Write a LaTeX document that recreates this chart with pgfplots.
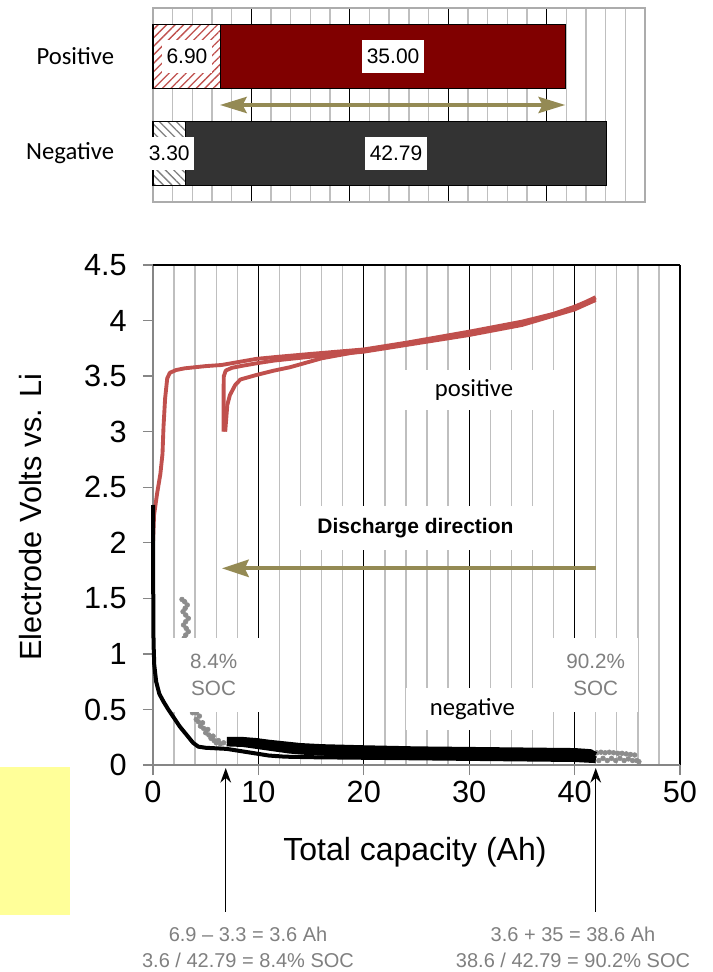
\documentclass[border=0pt]{standalone}
\usepackage{fontspec}
\setmainfont{Liberation Sans}
\newfontfamily\calibri{Carlito}
\usepackage{pgfplots}
\pgfplotsset{compat=1.18}
\usetikzlibrary{arrows.meta,patterns.meta}
\definecolor{posred}{HTML}{C0504D}
\definecolor{darkred}{HTML}{800000}
\definecolor{negdark}{HTML}{333333}
\definecolor{olivearr}{HTML}{948A54}
\definecolor{gridgray}{HTML}{BFBFBF}
\definecolor{axgray}{HTML}{868686}
\definecolor{txtgray}{HTML}{808080}
\definecolor{dotgray}{HTML}{8C8C8C}
\definecolor{hilite}{HTML}{FFFF99}
\pgfplotsset{
  topbox/.style={at={(0pt,0pt)}, anchor=origin, scale only axis,
    width=369pt, height=145.5pt, xmin=0, xmax=50, ymin=0, ymax=2, clip=false},
  botbox/.style={at={(0pt,0pt)}, anchor=origin, scale only axis,
    width=395.25pt, height=375pt, xmin=0, xmax=50, ymin=0, ymax=4.5, clip=false},
}
\begin{document}
\begin{tikzpicture}
\path[use as bounding box] (0pt,0pt) rectangle (534.75pt,729pt);
\fill[hilite] (0pt,42.75pt) rectangle (52.5pt,153.75pt);

% ---------- top: electrode capacity bars ----------
\begin{scope}[shift={(114.75pt,577.5pt)}]
\begin{axis}[
  topbox,
  xbar stacked, bar width=0.66,
  xtick={10,20,30,40}, xticklabels={},
  minor xtick={2,4,6,8,12,14,16,18,22,24,26,28,32,34,36,38,42,44,46,48},
  xmajorgrids, xminorgrids,
  major grid style={black, line width=1pt},
  minor grid style={gridgray, line width=1.1pt},
  ytick={0.5,1.5}, yticklabels={Negative,Positive},
  major tick length=0pt, minor tick length=0pt,
  axis line style={gridgray!90!black, line width=1.1pt},
  yticklabel style={font=\calibri\fontsize{18.5}{18.5}\selectfont, inner sep=0pt, anchor=east, xshift=-29pt},
]
\addplot[draw=black, line width=0.8pt, fill=white,
  postaction={pattern={Lines[angle=45,distance=4.5pt,line width=1pt]}, pattern color=posred}]
  coordinates {(6.90,1.5) (0,0.5)};
\addplot[draw=black, line width=0.8pt, fill=darkred] coordinates {(35.00,1.5) (0,0.5)};
\addplot[draw=black, line width=0.8pt, fill=white,
  postaction={pattern={Lines[angle=-45,distance=4.5pt,line width=1pt]}, pattern color=txtgray}]
  coordinates {(0,1.5) (3.30,0.5)};
\addplot[draw=black, line width=0.8pt, fill=negdark] coordinates {(0,1.5) (42.79,0.5)};
\end{axis}
% labels and arrow over the bars
\begin{axis}[topbox, hide axis]
\tikzset{vlab/.style={fill=white, inner xsep=3.5pt, inner ysep=6.5pt, font=\fontsize{15.75}{15.75}\selectfont}}
\node[vlab] at (axis cs:3.45,1.5) {6.90};
\node[vlab] at (axis cs:24.4,1.5) {35.00};
\node[vlab] at (axis cs:1.65,0.5) {3.30};
\node[vlab] at (axis cs:24.7,0.5) {42.79};
\draw[olivearr, line width=3pt, {Stealth[length=20pt,width=12pt,inset=3pt]}-{Stealth[length=20pt,width=12pt,inset=3pt]}]
  (axis cs:6.8,1.0) -- (axis cs:41.9,1.0);
\end{axis}
\end{scope}

% ---------- bottom: electrode potentials ----------
\begin{scope}[shift={(114.75pt,155.25pt)}]
\begin{axis}[
  botbox,
  axis lines*=left, axis line style={-, draw=axgray, line width=1.1pt},
  xtick={10,20,30,40,50}, extra x ticks={0}, extra x tick style={grid=none},
  minor xtick={2,4,6,8,12,14,16,18,22,24,26,28,32,34,36,38,42,44,46,48},
  ytick={0,0.5,1,1.5,2,2.5,3,3.5,4,4.5},
  xmajorgrids, xminorgrids,
  major grid style={black, line width=1pt},
  minor grid style={gridgray, line width=1.1pt},
  tick align=outside, major tick length=7.5pt, minor tick length=0pt,
  tick style={axgray, line width=1pt},
  ticklabel style={font=\fontsize{23}{23}\selectfont},
  /pgf/number format/assume math mode=true,
  xticklabel style={inner sep=0pt, yshift=-4pt},
  yticklabel style={inner sep=0pt, anchor=east, xshift=-12pt},
  xlabel={Total capacity (Ah)},
  xlabel style={at={(axis description cs:0.497,-0.174)}, anchor=center, font=\fontsize{24}{24}\selectfont},
  ylabel={Electrode Volts vs. Li},
  ylabel style={at={(axis description cs:-0.233,0.496)}, anchor=center, rotate=0, font=\fontsize{23}{23}\selectfont},
]
% gray dots: negative electrode outside the cell window
\addplot[only marks, mark=*, mark size=1.8pt, dotgray, mark options={draw=none, fill=dotgray}] coordinates {
(2.75,1.49)(3.0,1.47)(3.25,1.44)(3.05,1.41)(2.85,1.38)(3.1,1.35)(3.35,1.32)(3.1,1.29)(2.9,1.26)
(3.15,1.23)(3.35,1.20)(3.1,1.17)(2.95,1.14)(3.2,1.12)
(3.3,1.0)(3.4,0.85)(3.5,0.7)(3.7,0.6)(3.8,0.52)
(3.75,0.47)(4.1,0.47)(4.4,0.44)(4.1,0.41)(4.3,0.39)(4.7,0.38)(4.5,0.35)(4.8,0.33)(5.2,0.32)
(5.0,0.29)(5.3,0.27)(5.7,0.26)(5.5,0.24)(5.8,0.22)(6.2,0.22)(6.0,0.20)(6.4,0.19)(6.7,0.20)
(42.1,0.11)(42.5,0.115)(42.9,0.11)(43.3,0.115)(43.7,0.11)(44.1,0.105)(44.5,0.105)(44.9,0.10)
(45.3,0.095)(45.7,0.09)
(42.3,0.04)(42.7,0.06)(43.1,0.04)(43.5,0.06)(43.9,0.04)(44.3,0.06)(44.7,0.04)(45.1,0.055)
(45.5,0.04)(45.9,0.04)(46.1,0.03)
};
\end{axis}
% boxes over grid and gray dots, then the curves
\begin{axis}[botbox, hide axis]
\node[fill=white, minimum width=125pt, minimum height=30pt, font=\calibri\fontsize{18.5}{18.5}\selectfont]
  at (axis cs:30.45,3.375) {positive};
\node[fill=white, minimum width=100pt, minimum height=32pt, font=\calibri\fontsize{18.5}{18.5}\selectfont]
  at (axis cs:30.3,0.504) {negative};
\node[fill=white, minimum width=185pt, minimum height=33pt, font=\bfseries\fontsize{15.75}{15.75}\selectfont]
  at (axis cs:24.9,2.13) {Discharge direction};
\node[fill=white, minimum width=72pt, minimum height=55pt, align=center, text=txtgray,
  font=\fontsize{15.5}{20}\selectfont] at (axis cs:5.75,0.81) {8.4\%\\SOC};
\node[fill=white, minimum width=64pt, minimum height=55pt, align=center, text=txtgray,
  font=\fontsize{15.5}{20}\selectfont] at (axis cs:42.0,0.81) {90.2\%\\SOC};
% positive electrode, three cycles
\addplot[posred, line width=2.9pt, line join=round] coordinates {
(0.0,2.00)(0.1,2.25)(0.4,2.45)(0.7,2.62)(0.9,2.8)(1.0,3.05)(1.15,3.3)(1.35,3.48)(1.6,3.53)
(2.2,3.555)(3.0,3.57)(4.0,3.58)(5.0,3.59)(6.5,3.60)(8.0,3.625)(9.8,3.655)(12,3.675)(15,3.70)
(20,3.74)(24,3.80)(27,3.85)(30,3.90)(35,3.99)(38,4.06)(40,4.125)(41,4.165)(42,4.21)};
\addplot[posred, line width=2.9pt, line join=round] coordinates {
(6.7,3.0)(6.7,3.2)(6.7,3.4)(6.72,3.50)(6.9,3.55)(7.5,3.575)(8.3,3.59)(9.8,3.615)(11.5,3.64)
(13,3.655)(15,3.675)(20,3.72)(25,3.795)(30,3.87)(35,3.96)(40,4.10)(42,4.185)};
\addplot[posred, line width=2.9pt, line join=round] coordinates {
(6.85,3.0)(6.95,3.12)(7.05,3.24)(7.3,3.33)(7.8,3.42)(8.3,3.47)(9.8,3.51)(11.5,3.55)(13,3.58)
(14.5,3.62)(16,3.66)(18,3.695)(20,3.73)(25,3.81)(30,3.885)(35,3.975)(40,4.115)(42,4.20)};
% negative electrode, three cycles
\addplot[black, line width=3pt, line join=round] coordinates {
(0,2.34)(0.02,1.6)(0.05,1.1)(0.12,0.9)(0.3,0.75)(0.6,0.64)(1.0,0.57)(1.45,0.50)(1.95,0.43)
(2.55,0.345)(3.2,0.27)(3.8,0.2)(4.3,0.165)(5,0.155)(6,0.15)(7,0.145)(8,0.13)(9,0.115)(10,0.10)
(11,0.085)(12.5,0.075)(15,0.07)(20,0.065)(25,0.06)(30,0.055)(35,0.05)(40,0.045)(42,0.035)};
\addplot[black, line width=4.6pt, line join=round] coordinates {
(7.0,0.225)(8.5,0.225)(9.8,0.215)(11,0.2)(12.5,0.185)(14,0.17)(16,0.16)(20,0.15)(25,0.14)
(30,0.135)(35,0.13)(40,0.125)(41.5,0.115)(42,0.09)};
\addplot[black, line width=4.6pt, line join=round] coordinates {
(7.0,0.195)(8.5,0.19)(10,0.17)(11.5,0.15)(13,0.13)(15,0.115)(18,0.105)(22,0.10)(26,0.095)
(30,0.09)(35,0.085)(40,0.08)(41.5,0.07)(42,0.05)};
\draw[olivearr, line width=3pt, -{Stealth[length=20pt,width=13pt,inset=3pt]}]
  (axis cs:42,1.77) -- (axis cs:6.55,1.77);
\draw[black, line width=1pt] (rel axis cs:0,1) -- (rel axis cs:1,1);
\end{axis}
\end{scope}

% pointers and working below the chart
\draw[black, line width=1pt, -{Stealth[length=11pt,width=8pt]}] (169.3pt,45pt) -- (169.3pt,153pt);
\draw[black, line width=1pt, -{Stealth[length=11pt,width=8pt]}] (446.8pt,45pt) -- (446.8pt,153pt);
\node[align=center, text=txtgray, font=\fontsize{15}{19.5}\selectfont] at (186pt,18.75pt)
  {6.9 – 3.3 = 3.6 Ah\\3.6 / 42.79 = 8.4\% SOC};
\node[align=center, text=txtgray, font=\fontsize{15}{19.5}\selectfont] at (429.75pt,18.75pt)
  {3.6 + 35 = 38.6 Ah\\38.6 / 42.79 = 90.2\% SOC};
\end{tikzpicture}
\end{document}
